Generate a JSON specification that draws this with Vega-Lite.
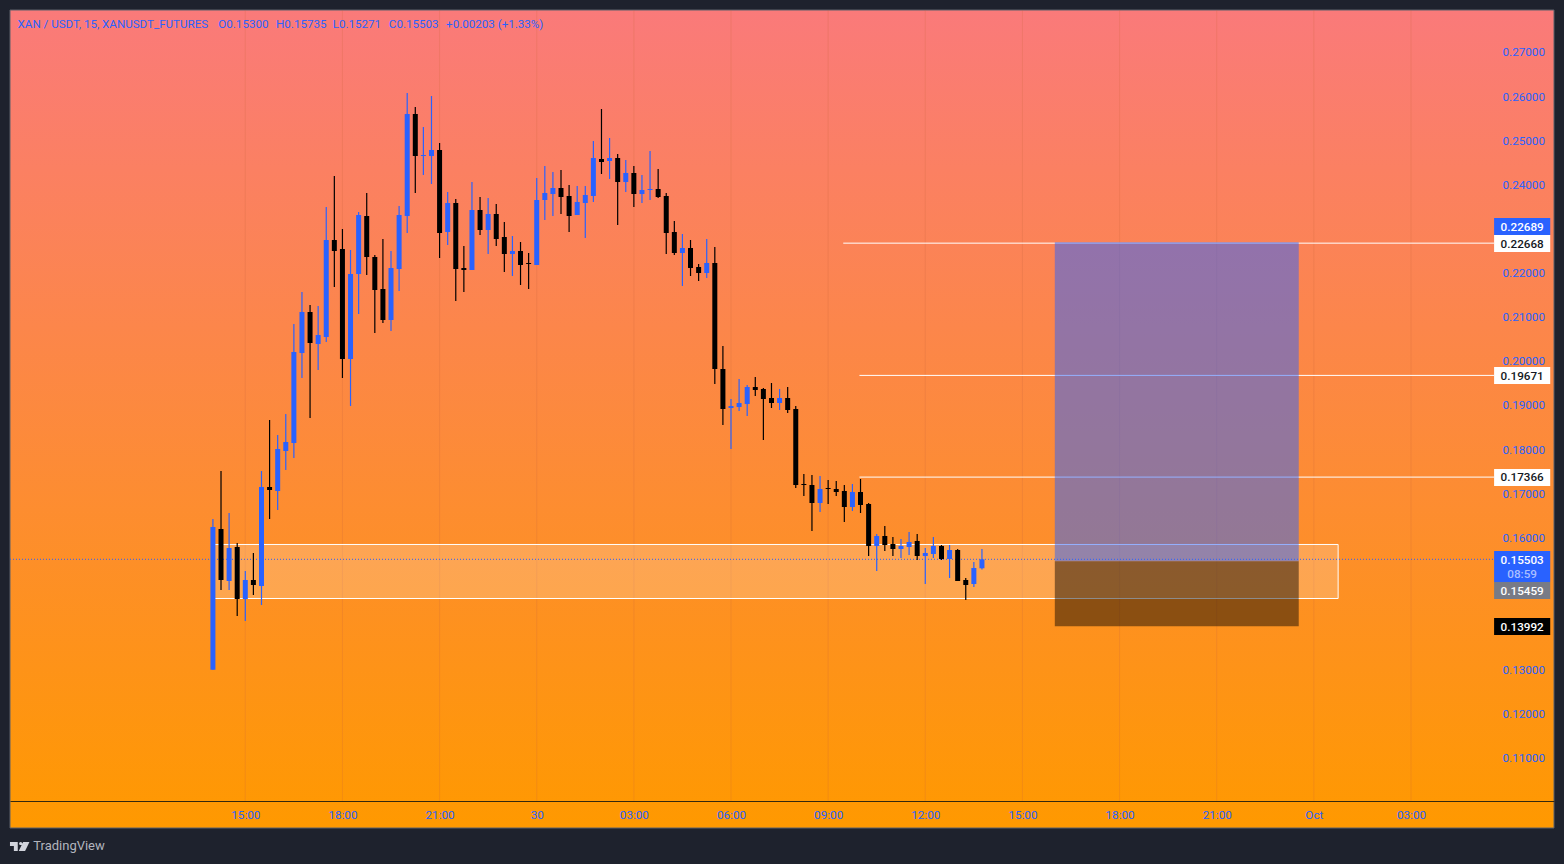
{"$schema":"https://vega.github.io/schema/vega-lite/v6.json","width":1544,"height":818,"autosize":"none","padding":{"left":10,"top":10,"right":10,"bottom":36},"background":"#1e222d","config":{"view":{"stroke":null},"font":"Roboto"},
"datasets":{
"bg":[{"t":"2025-09-29T07:44Z","t2":"2025-10-01T07:25Z","p":0.279518,"p2":0.094136}],
"grid":[{"t":"2025-09-29T15:00Z","p":0.279518,"p2":0.100255},{"t":"2025-09-29T18:00Z","p":0.279518,"p2":0.100255},{"t":"2025-09-29T21:00Z","p":0.279518,"p2":0.100255},{"t":"2025-09-30T00:00Z","p":0.279518,"p2":0.100255},{"t":"2025-09-30T03:00Z","p":0.279518,"p2":0.100255},{"t":"2025-09-30T06:00Z","p":0.279518,"p2":0.100255},{"t":"2025-09-30T09:00Z","p":0.279518,"p2":0.100255},{"t":"2025-09-30T12:00Z","p":0.279518,"p2":0.100255},{"t":"2025-09-30T15:00Z","p":0.279518,"p2":0.100255},{"t":"2025-09-30T18:00Z","p":0.279518,"p2":0.100255},{"t":"2025-09-30T21:00Z","p":0.279518,"p2":0.100255},{"t":"2025-10-01T00:00Z","p":0.279518,"p2":0.100255},{"t":"2025-10-01T03:00Z","p":0.279518,"p2":0.100255}],
"band":[{"t":"2025-09-29T14:00Z","t2":"2025-10-01T00:45Z","p":0.15839,"p2":0.14615}],
"levels":[{"t":"2025-09-30T09:28Z","t2":"2025-10-01T05:34Z","p":0.22668},{"t":"2025-09-30T09:58Z","t2":"2025-10-01T05:34Z","p":0.19671},{"t":"2025-09-30T09:58Z","t2":"2025-10-01T05:34Z","p":0.17366}],
"last":[{"t":"2025-09-29T07:44Z","t2":"2025-10-01T05:34Z","p":0.15503}],
"target":[{"t":"2025-09-30T16:00Z","t2":"2025-09-30T23:32Z","p":0.22689,"p2":0.15459}],
"stop":[{"t":"2025-09-30T16:00Z","t2":"2025-09-30T23:32Z","p":0.15459,"p2":0.13985}],
"badges":[{"t":"2025-10-01T05:34Z","t2":"2025-10-01T07:18Z","p":0.23238,"p2":0.22853,"kind":"blue"},{"t":"2025-10-01T05:34Z","t2":"2025-10-01T07:18Z","p":0.22853,"p2":0.22467,"kind":"white"},{"t":"2025-10-01T05:34Z","t2":"2025-10-01T07:18Z","p":0.19861,"p2":0.19476,"kind":"white"},{"t":"2025-10-01T05:34Z","t2":"2025-10-01T07:18Z","p":0.1755,"p2":0.17164,"kind":"white"},{"t":"2025-10-01T05:34Z","t2":"2025-10-01T07:18Z","p":0.15691,"p2":0.14989,"kind":"blue"},{"t":"2025-10-01T05:34Z","t2":"2025-10-01T07:18Z","p":0.14989,"p2":0.14603,"kind":"gray"},{"t":"2025-10-01T05:34Z","t2":"2025-10-01T07:18Z","p":0.14173,"p2":0.13788,"kind":"black"}],
"badgeText":[{"t":"2025-10-01T06:26Z","p":0.23045,"label":"0.22689","ink":"inkWhite"},{"t":"2025-10-01T06:26Z","p":0.2266,"label":"0.22668","ink":"inkBlack"},{"t":"2025-10-01T06:26Z","p":0.19668,"label":"0.19671","ink":"inkBlack"},{"t":"2025-10-01T06:26Z","p":0.17357,"label":"0.17366","ink":"inkBlack"},{"t":"2025-10-01T06:26Z","p":0.15487,"label":"0.15503","ink":"inkWhite"},{"t":"2025-10-01T06:26Z","p":0.1517,"label":"08:59","ink":"inkPale"},{"t":"2025-10-01T06:26Z","p":0.14796,"label":"0.15459","ink":"inkWhite"},{"t":"2025-10-01T06:26Z","p":0.1398,"label":"0.13992","ink":"inkWhite"}],
"header":[{"t":"2025-09-29T07:58Z","p":0.27623,"label":"XAN / USDT, 15, XANUSDT_FUTURES"},{"t":"2025-09-29T14:10Z","p":0.27623,"label":"O0.15300"},{"t":"2025-09-29T15:57Z","p":0.27623,"label":"H0.15735"},{"t":"2025-09-29T17:42Z","p":0.27623,"label":"L0.15271"},{"t":"2025-09-29T19:26Z","p":0.27623,"label":"C0.15503"},{"t":"2025-09-29T21:12Z","p":0.27623,"label":"+0.00203 (+1.33%)"}],
"brand":[{"t":"2025-09-29T08:27Z","p":0.08995,"label":"TradingView"}],
"logo":[{"t":"2025-09-29T08:02Z","p":0.08995}],
"candles":[
{"t":"2025-09-29T14:00Z","o":0.13,"h":0.16416,"l":0.13,"c":0.16235,"dir":"up"},
{"t":"2025-09-29T14:15Z","o":0.1619,"h":0.17504,"l":0.14807,"c":0.15034,"dir":"down"},
{"t":"2025-09-29T14:30Z","o":0.15011,"h":0.16552,"l":0.14807,"c":0.15759,"dir":"up"},
{"t":"2025-09-29T14:45Z","o":0.15782,"h":0.15872,"l":0.14218,"c":0.14603,"dir":"down"},
{"t":"2025-09-29T15:00Z","o":0.14603,"h":0.15238,"l":0.14105,"c":0.15034,"dir":"up"},
{"t":"2025-09-29T15:15Z","o":0.15034,"h":0.15646,"l":0.14694,"c":0.14921,"dir":"down"},
{"t":"2025-09-29T15:30Z","o":0.14898,"h":0.17504,"l":0.14467,"c":0.17142,"dir":"up"},
{"t":"2025-09-29T15:45Z","o":0.17142,"h":0.1866,"l":0.16416,"c":0.17074,"dir":"down"},
{"t":"2025-09-29T16:00Z","o":0.17051,"h":0.1832,"l":0.1662,"c":0.18003,"dir":"up"},
{"t":"2025-09-29T16:15Z","o":0.17958,"h":0.18796,"l":0.17527,"c":0.18161,"dir":"up"},
{"t":"2025-09-29T16:30Z","o":0.18139,"h":0.20836,"l":0.17799,"c":0.20201,"dir":"up"},
{"t":"2025-09-29T16:45Z","o":0.20178,"h":0.21561,"l":0.19612,"c":0.21108,"dir":"up"},
{"t":"2025-09-29T17:00Z","o":0.21108,"h":0.21266,"l":0.18705,"c":0.20405,"dir":"down"},
{"t":"2025-09-29T17:15Z","o":0.20382,"h":0.21244,"l":0.19793,"c":0.20586,"dir":"up"},
{"t":"2025-09-29T17:30Z","o":0.20541,"h":0.23487,"l":0.20428,"c":0.22739,"dir":"up"},
{"t":"2025-09-29T17:45Z","o":0.22739,"h":0.2419,"l":0.21674,"c":0.2249,"dir":"down"},
{"t":"2025-09-29T18:00Z","o":0.22535,"h":0.22989,"l":0.19612,"c":0.20042,"dir":"down"},
{"t":"2025-09-29T18:15Z","o":0.20042,"h":0.22513,"l":0.18977,"c":0.21969,"dir":"up"},
{"t":"2025-09-29T18:30Z","o":0.21969,"h":0.23374,"l":0.21062,"c":0.23306,"dir":"up"},
{"t":"2025-09-29T18:45Z","o":0.23283,"h":0.23805,"l":0.21946,"c":0.22354,"dir":"down"},
{"t":"2025-09-29T19:00Z","o":0.22354,"h":0.22399,"l":0.20632,"c":0.21606,"dir":"down"},
{"t":"2025-09-29T19:15Z","o":0.21629,"h":0.22762,"l":0.20858,"c":0.20926,"dir":"down"},
{"t":"2025-09-29T19:30Z","o":0.20926,"h":0.2249,"l":0.20677,"c":0.22105,"dir":"up"},
{"t":"2025-09-29T19:45Z","o":0.22082,"h":0.2351,"l":0.21584,"c":0.23306,"dir":"up"},
{"t":"2025-09-29T20:00Z","o":0.23283,"h":0.26071,"l":0.22898,"c":0.25595,"dir":"up"},
{"t":"2025-09-29T20:15Z","o":0.25595,"h":0.25754,"l":0.23805,"c":0.24643,"dir":"down"},
{"t":"2025-09-29T20:30Z","o":0.24643,"h":0.253,"l":0.24212,"c":0.24666,"dir":"up"},
{"t":"2025-09-29T20:45Z","o":0.24643,"h":0.26003,"l":0.24008,"c":0.24779,"dir":"up"},
{"t":"2025-09-29T21:00Z","o":0.24779,"h":0.24938,"l":0.22331,"c":0.22898,"dir":"down"},
{"t":"2025-09-29T21:15Z","o":0.22921,"h":0.23827,"l":0.22626,"c":0.23578,"dir":"up"},
{"t":"2025-09-29T21:30Z","o":0.23578,"h":0.23669,"l":0.21357,"c":0.22082,"dir":"down"},
{"t":"2025-09-29T21:45Z","o":0.22105,"h":0.22603,"l":0.21561,"c":0.22059,"dir":"down"},
{"t":"2025-09-29T22:00Z","o":0.22059,"h":0.24054,"l":0.22059,"c":0.23419,"dir":"up"},
{"t":"2025-09-29T22:15Z","o":0.23419,"h":0.23714,"l":0.22853,"c":0.22966,"dir":"down"},
{"t":"2025-09-29T22:30Z","o":0.22966,"h":0.23691,"l":0.22422,"c":0.23329,"dir":"up"},
{"t":"2025-09-29T22:45Z","o":0.23329,"h":0.23555,"l":0.22603,"c":0.22762,"dir":"down"},
{"t":"2025-09-29T23:00Z","o":0.22807,"h":0.23147,"l":0.22014,"c":0.22422,"dir":"down"},
{"t":"2025-09-29T23:15Z","o":0.22422,"h":0.2283,"l":0.21923,"c":0.2249,"dir":"up"},
{"t":"2025-09-29T23:30Z","o":0.2249,"h":0.22694,"l":0.2172,"c":0.22173,"dir":"down"},
{"t":"2025-09-29T23:45Z","o":0.22218,"h":0.22445,"l":0.21629,"c":0.22195,"dir":"down"},
{"t":"2025-09-30T00:00Z","o":0.22173,"h":0.24144,"l":0.22173,"c":0.23646,"dir":"up"},
{"t":"2025-09-30T00:15Z","o":0.23646,"h":0.24416,"l":0.23193,"c":0.23805,"dir":"up"},
{"t":"2025-09-30T00:30Z","o":0.23782,"h":0.2428,"l":0.23283,"c":0.23918,"dir":"up"},
{"t":"2025-09-30T00:45Z","o":0.23918,"h":0.24326,"l":0.23329,"c":0.23714,"dir":"down"},
{"t":"2025-09-30T01:00Z","o":0.23737,"h":0.23986,"l":0.22921,"c":0.23283,"dir":"down"},
{"t":"2025-09-30T01:15Z","o":0.23306,"h":0.23963,"l":0.23306,"c":0.23601,"dir":"up"},
{"t":"2025-09-30T01:30Z","o":0.23578,"h":0.23963,"l":0.22785,"c":0.23759,"dir":"up"},
{"t":"2025-09-30T01:45Z","o":0.23737,"h":0.24983,"l":0.23601,"c":0.24598,"dir":"up"},
{"t":"2025-09-30T02:00Z","o":0.24575,"h":0.25708,"l":0.24235,"c":0.24507,"dir":"down"},
{"t":"2025-09-30T02:15Z","o":0.2453,"h":0.25051,"l":0.24122,"c":0.24598,"dir":"up"},
{"t":"2025-09-30T02:30Z","o":0.24598,"h":0.24688,"l":0.23079,"c":0.24054,"dir":"down"},
{"t":"2025-09-30T02:45Z","o":0.24054,"h":0.24552,"l":0.23827,"c":0.24258,"dir":"up"},
{"t":"2025-09-30T03:00Z","o":0.24258,"h":0.24416,"l":0.23487,"c":0.23782,"dir":"down"},
{"t":"2025-09-30T03:15Z","o":0.23782,"h":0.24212,"l":0.23578,"c":0.23873,"dir":"up"},
{"t":"2025-09-30T03:30Z","o":0.23873,"h":0.24756,"l":0.23646,"c":0.23895,"dir":"up"},
{"t":"2025-09-30T03:45Z","o":0.23895,"h":0.24348,"l":0.23691,"c":0.23714,"dir":"down"},
{"t":"2025-09-30T04:00Z","o":0.23737,"h":0.23805,"l":0.22422,"c":0.22898,"dir":"down"},
{"t":"2025-09-30T04:15Z","o":0.22921,"h":0.2317,"l":0.22399,"c":0.22445,"dir":"down"},
{"t":"2025-09-30T04:30Z","o":0.22445,"h":0.22875,"l":0.21697,"c":0.22558,"dir":"up"},
{"t":"2025-09-30T04:45Z","o":0.22558,"h":0.22739,"l":0.21923,"c":0.22105,"dir":"down"},
{"t":"2025-09-30T05:00Z","o":0.22127,"h":0.22195,"l":0.2181,"c":0.21991,"dir":"down"},
{"t":"2025-09-30T05:15Z","o":0.21991,"h":0.22762,"l":0.21878,"c":0.22218,"dir":"up"},
{"t":"2025-09-30T05:30Z","o":0.22218,"h":0.22581,"l":0.19476,"c":0.19816,"dir":"down"},
{"t":"2025-09-30T05:45Z","o":0.19816,"h":0.20337,"l":0.18547,"c":0.18909,"dir":"down"},
{"t":"2025-09-30T06:00Z","o":0.18932,"h":0.19136,"l":0.18003,"c":0.18977,"dir":"up"},
{"t":"2025-09-30T06:15Z","o":0.18955,"h":0.19589,"l":0.18864,"c":0.19045,"dir":"up"},
{"t":"2025-09-30T06:30Z","o":0.19023,"h":0.19453,"l":0.18751,"c":0.19408,"dir":"up"},
{"t":"2025-09-30T06:45Z","o":0.19408,"h":0.19635,"l":0.19204,"c":0.1934,"dir":"down"},
{"t":"2025-09-30T07:00Z","o":0.19363,"h":0.19385,"l":0.18207,"c":0.19136,"dir":"down"},
{"t":"2025-09-30T07:15Z","o":0.19159,"h":0.19499,"l":0.18932,"c":0.19045,"dir":"down"},
{"t":"2025-09-30T07:30Z","o":0.19045,"h":0.19363,"l":0.18887,"c":0.19159,"dir":"up"},
{"t":"2025-09-30T07:45Z","o":0.19159,"h":0.19408,"l":0.18819,"c":0.18887,"dir":"down"},
{"t":"2025-09-30T08:00Z","o":0.18909,"h":0.18977,"l":0.17119,"c":0.17187,"dir":"down"},
{"t":"2025-09-30T08:15Z","o":0.1721,"h":0.17436,"l":0.16938,"c":0.17187,"dir":"down"},
{"t":"2025-09-30T08:30Z","o":0.17187,"h":0.17414,"l":0.16144,"c":0.16779,"dir":"down"},
{"t":"2025-09-30T08:45Z","o":0.16779,"h":0.17391,"l":0.16575,"c":0.17096,"dir":"up"},
{"t":"2025-09-30T09:00Z","o":0.17119,"h":0.173,"l":0.16756,"c":0.17096,"dir":"down"},
{"t":"2025-09-30T09:15Z","o":0.17096,"h":0.17278,"l":0.16938,"c":0.17028,"dir":"down"},
{"t":"2025-09-30T09:30Z","o":0.17051,"h":0.17187,"l":0.16348,"c":0.16688,"dir":"down"},
{"t":"2025-09-30T09:45Z","o":0.16688,"h":0.1721,"l":0.16598,"c":0.17028,"dir":"up"},
{"t":"2025-09-30T10:00Z","o":0.17028,"h":0.17323,"l":0.16552,"c":0.16734,"dir":"down"},
{"t":"2025-09-30T10:15Z","o":0.16756,"h":0.16779,"l":0.15578,"c":0.15804,"dir":"down"},
{"t":"2025-09-30T10:30Z","o":0.15804,"h":0.16076,"l":0.15238,"c":0.16031,"dir":"up"},
{"t":"2025-09-30T10:45Z","o":0.16031,"h":0.16258,"l":0.15691,"c":0.15827,"dir":"down"},
{"t":"2025-09-30T11:00Z","o":0.1585,"h":0.16008,"l":0.15578,"c":0.15736,"dir":"down"},
{"t":"2025-09-30T11:15Z","o":0.15736,"h":0.15963,"l":0.15533,"c":0.15804,"dir":"up"},
{"t":"2025-09-30T11:30Z","o":0.15782,"h":0.16122,"l":0.156,"c":0.15895,"dir":"up"},
{"t":"2025-09-30T11:45Z","o":0.15918,"h":0.16076,"l":0.15487,"c":0.15578,"dir":"down"},
{"t":"2025-09-30T12:00Z","o":0.15578,"h":0.15759,"l":0.14943,"c":0.15646,"dir":"up"},
{"t":"2025-09-30T12:15Z","o":0.15623,"h":0.16008,"l":0.15533,"c":0.15804,"dir":"up"},
{"t":"2025-09-30T12:30Z","o":0.15804,"h":0.15827,"l":0.15487,"c":0.1551,"dir":"down"},
{"t":"2025-09-30T12:45Z","o":0.1551,"h":0.15827,"l":0.15079,"c":0.15714,"dir":"up"},
{"t":"2025-09-30T13:00Z","o":0.15714,"h":0.15736,"l":0.15011,"c":0.15011,"dir":"down"},
{"t":"2025-09-30T13:15Z","o":0.15034,"h":0.15079,"l":0.14581,"c":0.14921,"dir":"down"},
{"t":"2025-09-30T13:30Z","o":0.14943,"h":0.15442,"l":0.14875,"c":0.15306,"dir":"up"},
{"t":"2025-09-30T13:45Z","o":0.153,"h":0.15735,"l":0.15271,"c":0.15503,"dir":"up"}
]},
"encoding":{
"x":{"field":"t","type":"temporal","title":null,"scale":{"type":"utc","domain":[1759131840000,1759303500000],"padding":0},"axis":{"orient":"bottom","offset":-27,"values":[1759158000000,1759168800000,1759179600000,1759190400000,1759201200000,1759212000000,1759222800000,1759233600000,1759244400000,1759255200000,1759266000000,1759276800000,1759287600000],"labelExpr":"utchours(datum.value)==0 ? (utcdate(datum.value)==1 ? 'Oct' : utcFormat(datum.value,'%d')) : utcFormat(datum.value,'%H:%M')","grid":false,"ticks":false,"tickSize":0,"labelPadding":8,"labelFontSize":11.7,"labelFont":"Roboto","labelColor":"#2962ff","domainColor":"#33280f","domainWidth":1,"zindex":1,"labelOverlap":false}},
"y":{"field":"p","type":"quantitative","title":null,"scale":{"domain":[0.094136,0.279518],"nice":false,"zero":false},"axis":{"orient":"right","offset":-60,"values":[0.27,0.26,0.25,0.24,0.22,0.21,0.2,0.19,0.18,0.17,0.16,0.13,0.12,0.11],"format":".5f","grid":false,"ticks":false,"tickSize":0,"domain":false,"labelPadding":8,"labelFontSize":11.7,"labelFont":"Roboto","labelColor":"#2962ff","zindex":1,"labelOverlap":false}}
},
"layer":[
{"data":{"name":"bg"},"mark":{"type":"rect","stroke":"#5d606b","strokeWidth":1,"fill":{"gradient":"linear","x1":0,"y1":0,"x2":0,"y2":1,"stops":[{"offset":0,"color":"#fa7a7a"},{"offset":1,"color":"#ff9900"}]}},"encoding":{"x2":{"field":"t2"},"y2":{"field":"p2"}}},
{"data":{"name":"grid"},"mark":{"type":"rule","stroke":"#c8643c","strokeOpacity":0.22,"strokeWidth":1},"encoding":{"y2":{"field":"p2"}}},
{"data":{"name":"band"},"mark":{"type":"rect","fill":"#ffffff","fillOpacity":0.2,"stroke":"#ffffff","strokeWidth":1},"encoding":{"x2":{"field":"t2"},"y2":{"field":"p2"}}},
{"data":{"name":"levels"},"mark":{"type":"rule","stroke":"#ffffff","strokeWidth":1},"encoding":{"x2":{"field":"t2"}}},
{"data":{"name":"last"},"mark":{"type":"rule","stroke":"#2962ff","strokeWidth":1,"strokeDash":[1,2]},"encoding":{"x2":{"field":"t2"}}},
{"data":{"name":"candles"},"mark":{"type":"rule","strokeWidth":1.2},"encoding":{"y":{"field":"l","type":"quantitative","title":null,"scale":{"domain":[0.094136,0.279518],"nice":false,"zero":false},"axis":{"orient":"right","offset":-60,"values":[0.27,0.26,0.25,0.24,0.22,0.21,0.2,0.19,0.18,0.17,0.16,0.13,0.12,0.11],"format":".5f","grid":false,"ticks":false,"tickSize":0,"domain":false,"labelPadding":8,"labelFontSize":11.7,"labelFont":"Roboto","labelColor":"#2962ff","zindex":1,"labelOverlap":false}},"y2":{"field":"h"},"color":{"field":"dir","type":"nominal","legend":null,"scale":{"domain":["up","down","blue","white","gray","black","inkWhite","inkBlack","inkPale"],"range":["#2962ff","#000000","#2962ff","#ffffff","#787b86","#000000","#ffffff","#131722","#a9bfff"]}}}},
{"data":{"name":"candles"},"mark":{"type":"bar","size":5},"encoding":{"y":{"field":"o","type":"quantitative","title":null,"scale":{"domain":[0.094136,0.279518],"nice":false,"zero":false},"axis":{"orient":"right","offset":-60,"values":[0.27,0.26,0.25,0.24,0.22,0.21,0.2,0.19,0.18,0.17,0.16,0.13,0.12,0.11],"format":".5f","grid":false,"ticks":false,"tickSize":0,"domain":false,"labelPadding":8,"labelFontSize":11.7,"labelFont":"Roboto","labelColor":"#2962ff","zindex":1,"labelOverlap":false}},"y2":{"field":"c"},"color":{"field":"dir","type":"nominal","legend":null,"scale":{"domain":["up","down","blue","white","gray","black","inkWhite","inkBlack","inkPale"],"range":["#2962ff","#000000","#2962ff","#ffffff","#787b86","#000000","#ffffff","#131722","#a9bfff"]}}}},
{"data":{"name":"target"},"mark":{"type":"rect","fill":"#2962ff","fillOpacity":0.5},"encoding":{"x2":{"field":"t2"},"y2":{"field":"p2"}}},
{"data":{"name":"stop"},"mark":{"type":"rect","fill":"#000000","fillOpacity":0.45},"encoding":{"x2":{"field":"t2"},"y2":{"field":"p2"}}},
{"data":{"name":"badges"},"mark":{"type":"rect"},"encoding":{"x2":{"field":"t2"},"y2":{"field":"p2"},"color":{"field":"kind","type":"nominal","legend":null,"scale":{"domain":["up","down","blue","white","gray","black","inkWhite","inkBlack","inkPale"],"range":["#2962ff","#000000","#2962ff","#ffffff","#787b86","#000000","#ffffff","#131722","#a9bfff"]}}}},
{"data":{"name":"badgeText"},"mark":{"type":"text","align":"center","baseline":"middle","fontSize":11.7,"font":"Roboto","fontWeight":500},"encoding":{"text":{"field":"label"},"color":{"field":"ink","type":"nominal","legend":null,"scale":{"domain":["up","down","blue","white","gray","black","inkWhite","inkBlack","inkPale"],"range":["#2962ff","#000000","#2962ff","#ffffff","#787b86","#000000","#ffffff","#131722","#a9bfff"]}}}},
{"data":{"name":"header"},"mark":{"type":"text","align":"left","baseline":"middle","fontSize":11.6,"font":"Roboto","fill":"#2962ff"},"encoding":{"text":{"field":"label"}}},
{"data":{"name":"brand"},"mark":{"type":"text","align":"left","baseline":"middle","fontSize":13,"font":"Roboto","fill":"#b2b5be"},"encoding":{"text":{"field":"label"}}},
{"data":{"name":"logo"},"mark":{"type":"point","filled":true,"fill":"#d1d4dc","opacity":1,"size":380,"shape":"M-1 -.47H-.2V.47H-.6V-.05H-1ZM.35 -.47H1L.55 .47H-.1ZM.1 -.47A.16 .16 0 1 1 .1 -.14A.16 .16 0 1 1 .1 -.47Z"}}
]}
